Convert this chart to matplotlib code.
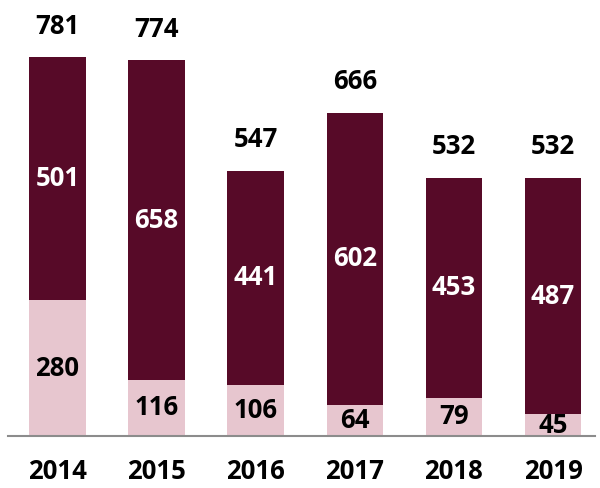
import matplotlib
matplotlib.use("Agg")
import matplotlib.pyplot as plt

years = ["2014", "2015", "2016", "2017", "2018", "2019"]
lower = [280, 116, 106, 64, 79, 45]
upper = [501, 658, 441, 602, 453, 487]
totals = [781, 774, 547, 666, 532, 532]

dark = "#570A28"
light = "#E7C6CF"

plt.rcParams["font.family"] = ["Open Sans", "DejaVu Sans"]

fig = plt.figure(figsize=(6, 4.88), dpi=100)
ax = fig.add_axes([0, 0, 1, 1])

x = list(range(len(years)))
w = 0.57
ax.bar(x, lower, width=w, color=light)
ax.bar(x, upper, width=w, bottom=lower, color=dark)

fs = 18.5
for i in x:
    ax.text(i, lower[i] / 2, str(lower[i]), ha="center", va="center",
            fontsize=fs, fontweight="bold", color="black")
    ax.text(i, lower[i] + upper[i] / 2, str(upper[i]), ha="center", va="center",
            fontsize=fs, fontweight="bold", color="white")
    ax.text(i, totals[i] + 36, str(totals[i]), ha="center", va="bottom",
            fontsize=fs, fontweight="bold", color="black")
    ax.text(i, -73, years[i], ha="center", va="center",
            fontsize=fs, fontweight="bold", color="black")

ax.axhline(0, xmin=0.013, xmax=0.992, color="#8C8C8C", lw=1.5)

ax.set_xlim(-0.580, 5.474)
ax.set_ylim(-107.1, 898.5)
ax.axis("off")

fig.savefig("out.png", dpi=100)
